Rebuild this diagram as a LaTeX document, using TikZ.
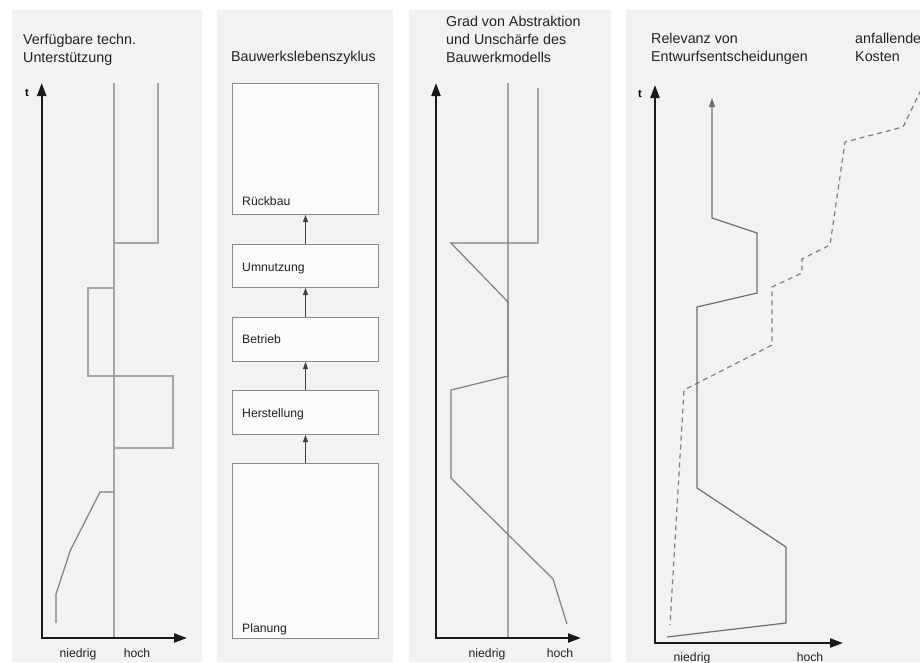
\documentclass[tikz,border=0pt]{standalone}
\usepackage{fontspec}
\setmainfont{Liberation Sans}
\usetikzlibrary{arrows.meta}
\definecolor{panelbg}{HTML}{F2F2F2}
\definecolor{boxfill}{HTML}{FBFBFB}
\definecolor{boxline}{HTML}{8A8A8A}
\definecolor{midline}{HTML}{A6A6A6}
\definecolor{curve}{HTML}{808080}
\definecolor{curvedark}{HTML}{6E6E6E}
\definecolor{txt}{HTML}{222222}
\begin{document}
\begin{tikzpicture}[x=1pt,y=-1pt,
  title/.style={anchor=base west,inner sep=0pt,align=left,text=txt,
    font=\fontsize{14.3}{18}\selectfont},
  lbl/.style={anchor=base west,inner sep=0pt,text=txt,font=\fontsize{12.2}{14}\selectfont},
  axlbl/.style={anchor=base,inner sep=0pt,text=txt,font=\fontsize{12.2}{14}\selectfont},
  tlbl/.style={inner sep=0pt,text=black,font=\fontsize{11}{13}\bfseries\selectfont},
  axis/.style={line width=2.2pt,draw=black!90,
    {Triangle[length=13pt,width=9pt]}-{Triangle[length=13pt,width=9pt]}},
  phase/.style={draw=boxline,fill=boxfill,line width=1pt,minimum width=146pt,
    anchor=north west,inner sep=0pt},
  flow/.style={draw=black!75,line width=0.9pt,-{Triangle[length=7pt,width=5pt]}},
  mid/.style={draw=midline,line width=1.4pt},
  crv/.style={draw=curve,line width=1.2pt,line join=miter},
  rel/.style={draw=curvedark,line width=1.2pt},
  cost/.style={draw=curve,line width=1.2pt,dash pattern=on 5pt off 4pt}]
\useasboundingbox (0,0) rectangle (920,662);
\fill[white] (0,0) rectangle (920,662);

% panel backgrounds
\fill[panelbg] (12,10) rectangle (202,662);
\fill[panelbg] (217,10) rectangle (393,662);
\fill[panelbg] (409,10) rectangle (611,662);
\fill[panelbg] (626,10) rectangle (920,662);

% ---- panel 1: available technical support
% (base anchor of a multi-line title sits on its last line)
\node[title] (t1) at (23,62) {Verfügbare techn.\\Unterstützung};
\draw[mid] (114,83) -- (114,638);
\draw[mid] (158,83) -- (158,243) -- (114,243);
\draw[mid] (114,288) -- (88,288) -- (88,376) -- (173,376) -- (173,448) -- (114,448);
\draw[crv] (114,492) -- (100,492) -- (70.5,550) -- (56,594) -- (56,623);
\draw[axis] (41.7,83) -- (41.7,638) -- (187,638);
\node[tlbl] (ta) at (27,93) {t};
\node[axlbl] (n1) at (78,657) {niedrig};
\node[axlbl] (h1) at (137,657) {hoch};

% ---- panel 2: building life cycle
\node[title] (t2) at (231,61) {Bauwerkslebenszyklus};
\node[phase,minimum height=131pt] (rueck) at (232,83) {};
\node[phase,minimum height=43pt] (umn) at (232,244) {};
\node[phase,minimum height=44pt] (betr) at (232,317) {};
\node[phase,minimum height=44pt] (herst) at (232,390) {};
\node[phase,minimum height=175pt] (plan) at (232,463) {};
\node[lbl] at (242,205) {Rückbau};
\node[lbl] at (242,271) {Umnutzung};
\node[lbl] at (242,343) {Betrieb};
\node[lbl] at (242,417) {Herstellung};
\node[lbl] at (242,632) {Planung};
\draw[flow] (plan.north) -- (herst.south);
\draw[flow] (herst.north) -- (betr.south);
\draw[flow] (betr.north) -- (umn.south);
\draw[flow] (umn.north) -- (rueck.south);

% ---- panel 3: degree of abstraction
\node[title] (t3) at (446,62) {Grad von Abstraktion\\und Unschärfe des\\Bauwerkmodells};
\draw[mid] (508,83) -- (508,638);
\draw[crv] (538,88) -- (538,243) -- (451,243) -- (508,302) -- (508,376)
  -- (451,390) -- (451,478) -- (553,579) -- (567,624);
\draw[axis] (436,83) -- (436,638) -- (581,638);
\node[axlbl] (n3) at (487,657) {niedrig};
\node[axlbl] (h3) at (560,657) {hoch};

% ---- panel 4: relevance of design decisions and incurred costs
\node[title] (t4) at (651,61) {Relevanz von\\Entwurfsentscheidungen};
\node[title] (t5) at (855,61) {anfallende\\Kosten};
\draw[cost] (921,90) -- (903,127) -- (845,142) -- (830,245) -- (802,259)
  -- (802,273) -- (772,287) -- (772,345) -- (684,390) -- (670,625);
\draw[rel,-{Triangle[length=9pt,width=6pt]}] (667,637) -- (786,623) -- (786,547)
  -- (697,488) -- (697,307) -- (757,293) -- (757,233) -- (712,218) -- (712,98);
\draw[axis] (655,85) -- (655,643) -- (843,643);
\node[tlbl] (tb) at (640,94) {t};
\node[axlbl] (n4) at (692,661) {niedrig};
\node[axlbl] (h4) at (810,661) {hoch};
\end{tikzpicture}
\end{document}
